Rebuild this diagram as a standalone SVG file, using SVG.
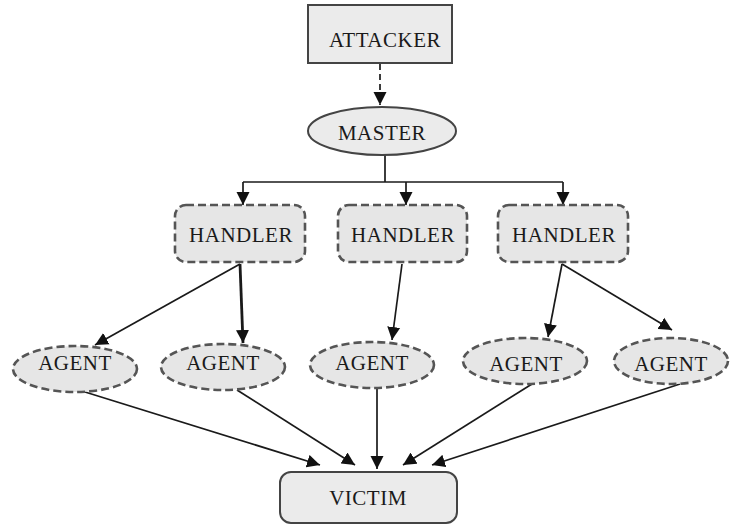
<svg xmlns="http://www.w3.org/2000/svg" width="730" height="525" viewBox="0 0 730 525">
<style>
text{font-family:"Liberation Serif","Times New Roman",serif;font-size:21px;letter-spacing:0.5px;fill:#1a1a1a;text-anchor:middle;dominant-baseline:central}
.dash{fill:#e6e6e6;stroke:#555;stroke-width:2.6;stroke-dasharray:8,4}
.solid{fill:#ebebeb;stroke:#444;stroke-width:2}
.ln{stroke:#1a1a1a;stroke-width:1.7;fill:none}
.thick{stroke:#1a1a1a;stroke-width:2.8;fill:none}
</style>
<defs>
<marker id="ah2" viewBox="0 0 10 10" refX="10" refY="5" markerWidth="13" markerHeight="14" markerUnits="userSpaceOnUse" orient="auto"><path d="M0,0L10,5L0,10z" fill="#111"/></marker>
</defs>
<rect width="730" height="525" fill="#fff"/>
<g id="connectors">
<line x1="380" y1="64" x2="380" y2="105" class="ln" stroke-width="2.4" stroke-dasharray="6,4" marker-end="url(#ah2)"/>
<line x1="385" y1="155" x2="385" y2="182" class="ln"/>
<line x1="243" y1="182" x2="563" y2="182" class="ln"/>
<line x1="243" y1="182" x2="243" y2="205" class="ln" marker-end="url(#ah2)"/>
<line x1="406" y1="182" x2="406" y2="205" class="ln" marker-end="url(#ah2)"/>
<line x1="563" y1="182" x2="563" y2="205" class="ln" marker-end="url(#ah2)"/>
<line x1="240" y1="264" x2="95" y2="345" class="ln" marker-end="url(#ah2)"/>
<line x1="240" y1="264" x2="243" y2="343" class="thick" marker-end="url(#ah2)"/>
<line x1="402" y1="264" x2="392" y2="340" class="ln" marker-end="url(#ah2)"/>
<line x1="562" y1="264" x2="548" y2="337" class="ln" marker-end="url(#ah2)"/>
<line x1="562" y1="264" x2="672" y2="330" class="ln" marker-end="url(#ah2)"/>
<line x1="85" y1="392" x2="320" y2="465" class="ln" marker-end="url(#ah2)"/>
<line x1="237" y1="390" x2="355" y2="465" class="ln" marker-end="url(#ah2)"/>
<line x1="377" y1="388" x2="377" y2="469" class="ln" marker-end="url(#ah2)"/>
<line x1="532" y1="384" x2="403" y2="465" class="ln" marker-end="url(#ah2)"/>
<line x1="680" y1="384" x2="432" y2="465" class="ln" marker-end="url(#ah2)"/>
</g>
<g id="attacker"><rect x="308" y="5" width="144" height="58" class="solid" stroke-width="2.5"/><text x="385" y="40">ATTACKER</text></g>
<g id="master"><ellipse cx="382" cy="131" rx="74" ry="24" class="solid"/><text x="382" y="133">MASTER</text></g>
<g id="handler1"><rect x="175" y="205" width="130" height="57" rx="11" class="dash"/><text x="241" y="235">HANDLER</text></g>
<g id="handler2"><rect x="338" y="205" width="129" height="57" rx="11" class="dash"/><text x="403" y="235">HANDLER</text></g>
<g id="handler3"><rect x="498" y="205" width="130" height="57" rx="11" class="dash"/><text x="564" y="235">HANDLER</text></g>
<g id="agent1"><ellipse cx="75" cy="369" rx="62" ry="23" class="dash"/><text x="75" y="363">AGENT</text></g>
<g id="agent2"><ellipse cx="223" cy="367" rx="62" ry="23" class="dash"/><text x="223" y="363">AGENT</text></g>
<g id="agent3"><ellipse cx="372" cy="365" rx="62" ry="23" class="dash"/><text x="372" y="363">AGENT</text></g>
<g id="agent4"><ellipse cx="525" cy="361" rx="62" ry="23" class="dash"/><text x="526" y="364">AGENT</text></g>
<g id="agent5"><ellipse cx="671" cy="361" rx="57" ry="23" class="dash"/><text x="671" y="364">AGENT</text></g>
<g id="victim"><rect x="280" y="472" width="177" height="51" rx="11" class="solid" stroke-width="2.2"/><text x="368" y="498">VICTIM</text></g>
</svg>
